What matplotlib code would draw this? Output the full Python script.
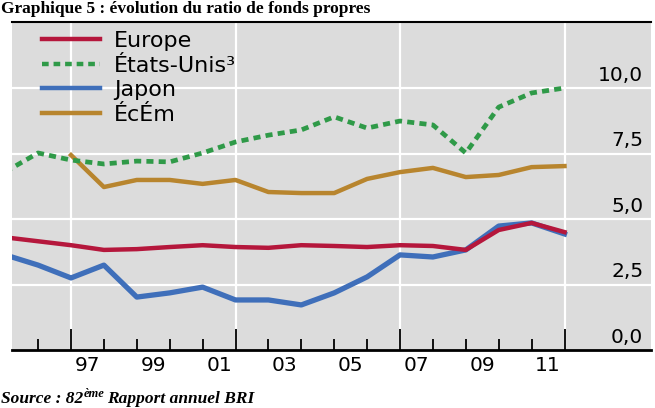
import matplotlib
matplotlib.use("Agg")
import matplotlib.pyplot as plt
from matplotlib.lines import Line2D

# ---- data (values at year-end; x = year + 1 on a year-interval axis) ----
years = list(range(1994, 2012))
europe = [4.30, 4.15, 4.00, 3.82, 3.85, 3.93, 4.00, 3.93, 3.90, 4.00, 3.97, 3.93, 4.00, 3.97, 3.82, 4.58, 4.85, 4.50]
usa    = [6.80, 7.52, 7.25, 7.10, 7.21, 7.18, 7.52, 7.94, 8.20, 8.40, 8.90, 8.47, 8.74, 8.59, 7.52, 9.27, 9.81, 10.00]
japan  = [3.63, 3.24, 2.75, 3.24, 2.02, 2.18, 2.40, 1.91, 1.91, 1.72, 2.18, 2.79, 3.63, 3.55, 3.82, 4.73, 4.85, 4.43]
em_years = list(range(1996, 2012))
em     = [7.44, 6.22, 6.49, 6.49, 6.34, 6.49, 6.03, 5.99, 5.99, 6.53, 6.79, 6.95, 6.60, 6.68, 6.98, 7.02]

series_names = ["Europe", "États-Unis³", "Japon", "ÉcÉm"]
x_labels = ["97", "99", "01", "03", "05", "07", "09", "11"]
x_label_years = [1997, 1999, 2001, 2003, 2005, 2007, 2009, 2011]
y_ticks = [0.0, 2.5, 5.0, 7.5, 10.0]
y_tick_labels = ["0,0", "2,5", "5,0", "7,5", "10,0"]

title = "Graphique 5 : évolution du ratio de fonds propres"

c_red = "#b5173c"
c_green = "#2f9a48"
c_blue = "#3f6fba"
c_brown = "#b8852e"

W, H = 655, 408
fig = plt.figure(figsize=(W / 100, H / 100), dpi=100)
ax = fig.add_axes([12 / W, (H - 350) / H, (651 - 12) / W, (350 - 22) / H])
ax.set_facecolor("#dcdcdc")

xe = [y + 1 for y in years]
xem = [y + 1 for y in em_years]
lw = 3.2
ax.plot(xe, europe, color=c_red, lw=lw, solid_joinstyle="round", zorder=4)
ax.plot(xem, em, color=c_brown, lw=lw, solid_joinstyle="round", zorder=3)
ax.plot(xe, japan, color=c_blue, lw=lw + 0.6, solid_joinstyle="round", zorder=3)
ax.plot(xe, usa, color=c_green, lw=lw + 0.2, linestyle=(0, (1.5, 1.1)), zorder=3)

ax.set_xlim(1997 - 59 / 32.9, 1997 + 580 / 32.9)
ax.set_ylim(0, 328 / 26.2)

# grid
for y in y_ticks[1:]:
    ax.axhline(y, color="white", lw=1.6, zorder=1)
major = [1997, 2002, 2007, 2012]
for x in major:
    ax.axvline(x, color="white", lw=1.6, zorder=1)

ax.set_xticks(major)
ax.set_xticks(list(range(1996, 2012)), minor=True)
ax.tick_params(axis="x", which="major", direction="in", length=15, width=1.3, color="black", labelbottom=False)
ax.tick_params(axis="x", which="minor", direction="in", length=8, width=1.3, color="black")
ax.set_yticks([])

for s in ["left", "right"]:
    ax.spines[s].set_visible(False)
ax.spines["bottom"].set_linewidth(2.0)
ax.spines["top"].set_linewidth(1.5)

fs = 14.5
sec = ax.secondary_xaxis("bottom")
sec.set_xticks([y + 0.5 for y in x_label_years])
sec.set_xticklabels(x_labels, fontsize=fs, family="DejaVu Sans")
sec.tick_params(length=0, pad=4)
sec.spines["bottom"].set_visible(False)

for v, lab in zip(y_ticks, y_tick_labels):
    ax.annotate(lab, xy=(0.988, v), xycoords=("axes fraction", "data"),
                xytext=(0, 2.5), textcoords="offset points",
                ha="right", va="bottom", fontsize=fs, family="DejaVu Sans", zorder=5)

handles = [
    Line2D([], [], color=c_red, lw=3.2),
    Line2D([], [], color=c_green, lw=3.2, linestyle=(0, (1.5, 1.1))),
    Line2D([], [], color=c_blue, lw=3.2),
    Line2D([], [], color=c_brown, lw=3.2),
]
leg = ax.legend(handles, series_names, loc="upper left", bbox_to_anchor=(30 / 639, 0.973),
                frameon=False, borderaxespad=0, borderpad=0,
                handlelength=2.6, handletextpad=0.65, labelspacing=0.21,
                prop={"family": "DejaVu Sans", "size": 16})
leg.set_zorder(6)

fig.text(1 / W, 1 - 13 / H, title, family="Liberation Serif", weight="bold",
         fontsize=12.5, ha="left", va="baseline")

# footer with superscript
renderer = fig.canvas.get_renderer()
t1 = fig.text(1 / W, 1 - 403 / H, "Source : 82", family="Liberation Serif", weight="bold",
              style="italic", fontsize=12.5, ha="left", va="baseline")
bb = t1.get_window_extent(renderer)
t2 = fig.text(bb.x1 / W, 1 - 397 / H, "ème", family="Liberation Serif", weight="bold",
              style="italic", fontsize=9, ha="left", va="baseline")
bb2 = t2.get_window_extent(renderer)
fig.text(bb2.x1 / W + 3 / W, 1 - 403 / H, "Rapport annuel BRI", family="Liberation Serif",
         weight="bold", style="italic", fontsize=12.5, ha="left", va="baseline")

fig.savefig("out.png", dpi=100)
